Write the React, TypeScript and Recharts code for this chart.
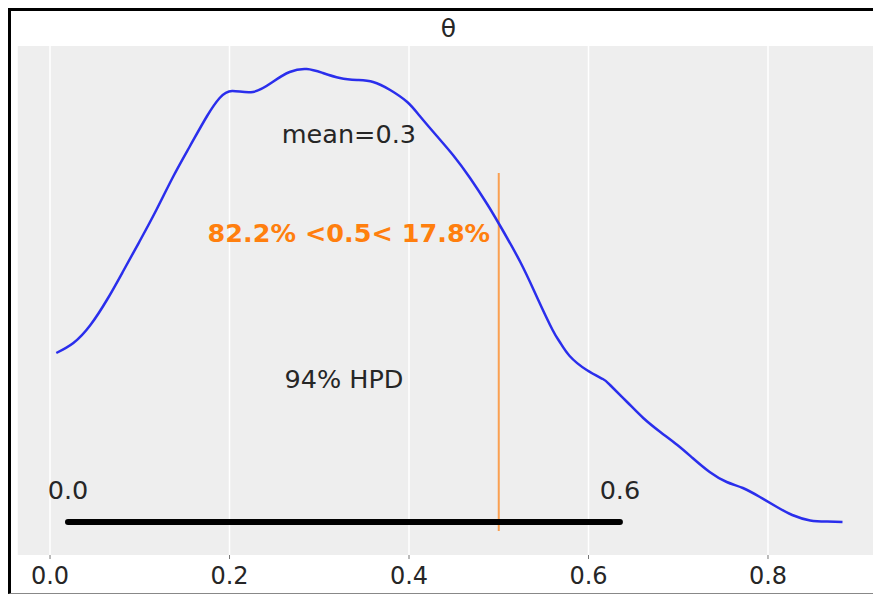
import React from 'react';
import {
  LineChart,
  Line,
  XAxis,
  YAxis,
  CartesianGrid,
  ReferenceLine,
  ReferenceDot,
} from 'recharts';

// posterior density of theta (KDE)
const thetaX = [
  0.007, 0.026, 0.045, 0.064, 0.081, 0.1, 0.119, 0.137, 0.156, 0.175, 0.189, 0.203,
  0.226, 0.248, 0.267, 0.286, 0.304, 0.323, 0.342, 0.36, 0.379, 0.398, 0.412, 0.431,
  0.449, 0.468, 0.487, 0.501, 0.524, 0.543, 0.56, 0.568, 0.579, 0.598, 0.616, 0.624,
  0.643, 0.661, 0.68, 0.699, 0.716, 0.735, 0.754, 0.772, 0.791, 0.81, 0.827, 0.847,
  0.866, 0.883,
];
const thetaDensity = [
  0.845, 0.895, 0.985, 1.115, 1.25, 1.405, 1.565, 1.725, 1.88, 2.03, 2.12, 2.155,
  2.15, 2.2, 2.25, 2.265, 2.245, 2.22, 2.21, 2.2, 2.16, 2.1, 2.03, 1.93,
  1.835, 1.72, 1.59, 1.485, 1.3, 1.12, 0.96, 0.9, 0.83, 0.76, 0.715, 0.685,
  0.6, 0.52, 0.45, 0.385, 0.32, 0.25, 0.2, 0.17, 0.125, 0.075, 0.035, 0.008,
  0.002, 0.0,
];

const xTicks = [0, 0.2, 0.4, 0.6, 0.8];
const hpdBounds = [0.02, 0.635];
const hpdLabel = '94% HPD';
const meanValue = 0.333;
const refValue = 0.5;
const pctBelow = 82.2;
const pctAbove = 17.8;

// vertical placement of the annotations (density units)
const meanTextY = 1.94;
const refTextY = 1.4475;
const hpdTextY = 0.715;
const hpdEndTextY = 0.1625;
const refLineSpan = [-0.045, 1.745];

const font = '"DejaVu Sans", sans-serif';
const textColor = '#262626';
const orange = '#ff7f0e';

const densityRows = thetaX.map((x, i) => ({ x, density: thetaDensity[i] }));
const hpdRows = hpdBounds.map((x) => ({ x, y: 0 }));

const note = (
  key: string,
  x: number,
  y: number,
  text: string,
  fill = textColor,
  bold = false
) => (
  <ReferenceDot
    key={key}
    x={x}
    y={y}
    r={0}
    fill="none"
    stroke="none"
    label={{
      value: text,
      position: 'center',
      fill,
      fontSize: 25.5,
      fontFamily: font,
      fontWeight: bold ? 'bold' : 'normal',
    }}
  />
);

export default function App() {
  return (
    <div
      style={{
        position: 'relative',
        width: 870,
        height: 582,
        borderLeft: '3px solid #000',
        borderTop: '3px solid #000',
        borderBottom: '1px solid #888',
        background: '#fff',
        fontFamily: font,
      }}
    >
      <style>{'html,body{overflow:hidden}'}</style>
      <div
        style={{
          position: 'absolute',
          left: 6,
          top: 0,
          width: 863,
          height: 35,
          lineHeight: '35px',
          textAlign: 'center',
          fontSize: 25,
          color: textColor,
        }}
      >
        θ
      </div>
      <LineChart
        width={870}
        height={582}
        data={densityRows}
        margin={{ top: 35, right: 1, bottom: 0, left: 6 }}
      >
        <CartesianGrid
          horizontal={false}
          stroke="#ffffff"
          strokeWidth={1.5}
          fill="#eeeeee"
          fillOpacity={1}
        />
        <XAxis
          dataKey="x"
          type="number"
          domain={[-0.0368, 0.9248]}
          allowDataOverflow
          ticks={xTicks}
          tickFormatter={(v: number) => v.toFixed(1)}
          axisLine={false}
          tickLine={{ stroke: '#777' }}
          tickSize={4}
          tickMargin={8}
          height={38}
          tick={{ fontSize: 24, fill: textColor, fontFamily: font }}
        />
        <YAxis hide type="number" domain={[-0.165, 2.38]} allowDataOverflow />
        <ReferenceLine
          segment={[
            { x: refValue, y: refLineSpan[0] },
            { x: refValue, y: refLineSpan[1] },
          ]}
          stroke={orange}
          strokeOpacity={0.7}
          strokeWidth={2}
        />
        <Line
          type="natural"
          dataKey="density"
          stroke="#2a2eec"
          strokeWidth={2.5}
          dot={false}
          isAnimationActive={false}
        />
        <Line
          data={hpdRows}
          dataKey="y"
          type="linear"
          stroke="#000"
          strokeWidth={6}
          strokeLinecap="round"
          dot={false}
          isAnimationActive={false}
        />
        {note('mean', meanValue, meanTextY, `mean=${meanValue.toFixed(1)}`)}
        {note(
          'ref',
          meanValue,
          refTextY,
          `${pctBelow.toFixed(1)}% <${refValue}< ${pctAbove.toFixed(1)}%`,
          orange,
          true
        )}
        {note('hpd', (hpdBounds[0] + hpdBounds[1]) / 2, hpdTextY, hpdLabel)}
        {note('hpdLo', hpdBounds[0], hpdEndTextY, hpdBounds[0].toFixed(1))}
        {note('hpdHi', hpdBounds[1], hpdEndTextY, hpdBounds[1].toFixed(1))}
      </LineChart>
    </div>
  );
}
